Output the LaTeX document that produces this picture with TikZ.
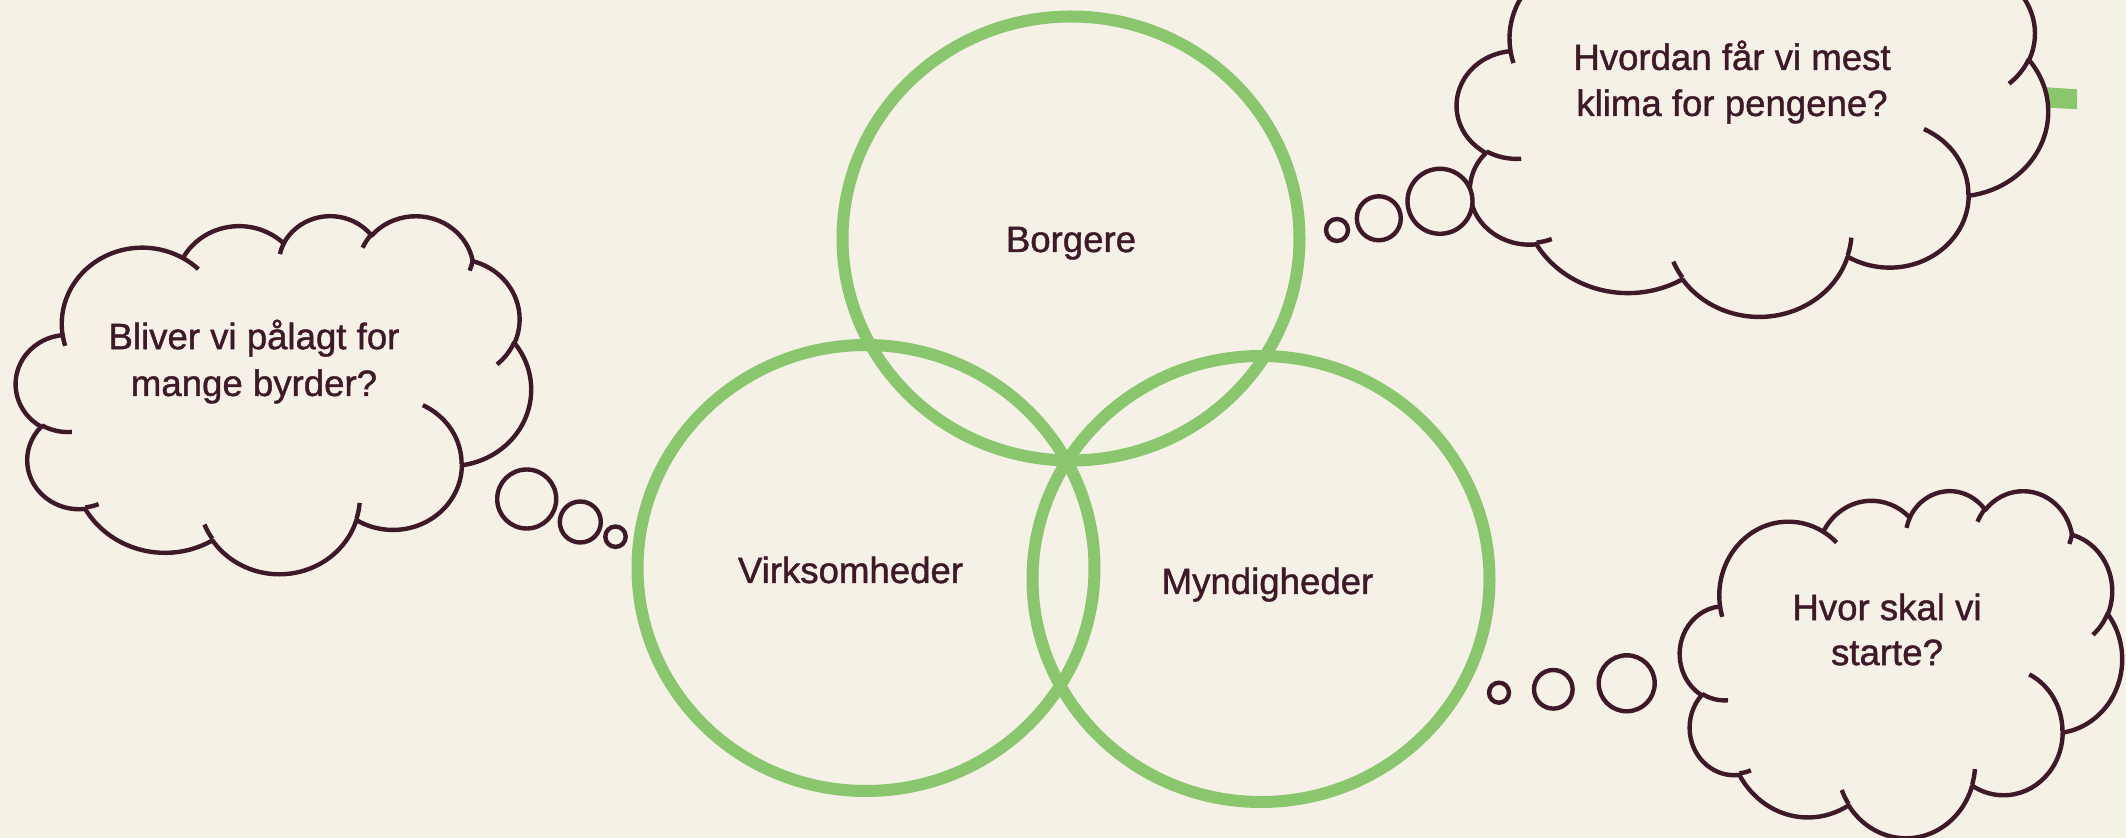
\documentclass[tikz,border=0pt]{standalone}
\usepackage{fontspec}
\setmainfont{Liberation Sans}[FakeBold=1.2]
\usepackage{xcolor}
\definecolor{cRing}{RGB}{137,198,110}
\definecolor{cInk}{RGB}{62,25,42}
\definecolor{cPaper}{RGB}{245,241,231}
% one puff of a cloud: x radius, y radius, start angle, sweep (angles seen on the ellipse)
\newcommand{\puff}[4]{arc[x radius=#1,y radius=#2,start angle={atan2(#1*sin(#3),#2*cos(#3))},delta angle={mod(atan2(#1*sin(#3+#4),#2*cos(#3+#4))-atan2(#1*sin(#3),#2*cos(#3))+720,360)}]}
% thought cloud in a 432 x 432 box: left, top, width, height (px)
\newcommand{\thoughtcloud}[4]{%
  \pgfmathsetmacro\cloudsx{#3/864}%
  \pgfmathsetmacro\cloudsy{-#4/864}%
  \begin{scope}[shift={(#1,#2)},x=\cloudsx pt,y=\cloudsy pt]
    \draw[puffline,fill=cPaper] (39.00,143.70) \puff{67.53}{91.90}{-190.4875}{123.7805}
      \puff{53.33}{72.67}{-144.1024}{89.9452} \puff{43.65}{59.45}{-145.8079}{99.7230}
      \puff{48.57}{65.95}{-130.9861}{117.2417} \puff{53.33}{72.73}{-78.7089}{109.0269}
      \puff{67.75}{92.20}{-46.2673}{130.2690} \puff{57.85}{78.67}{0.6250}{114.0333}
      \puff{67.52}{92.15}{22.4516}{115.1726} \puff{77.20}{105.43}{66.2426}{75.7110}
      \puff{43.60}{59.18}{-274.9421}{146.7356} \puff{43.45}{59.45}{-246.8285}{152.5189} -- cycle;
    % inner hooks
    \draw[puffline] (46.93,261.77) \puff{43.45}{59.45}{86.7420}{26.4295}
      (69.28,348.99) \puff{43.60}{59.18}{73.6105}{11.4475}
      (164.78,390.90) \puff{67.52}{92.15}{137.6242}{14.0811}
      (288.27,347.51) \puff{67.52}{92.15}{6.4533}{15.9984}
      (341.29,229.54) \puff{57.85}{78.67}{-70.2924}{70.9174}
      (417.98,153.54) \puff{53.33}{72.73}{30.3180}{27.7515}
      (383.24,54.26) \puff{48.57}{65.95}{13.7443}{14.8589}
      (290.78,39.52) \puff{48.57}{65.95}{-149.1815}{18.1954}
      (221.41,47.20) \puff{43.65}{59.45}{-163.4943}{17.6864}
      (140.00,51.92) \puff{67.53}{91.90}{-66.7070}{12.3194}
      (41.27,157.89) \puff{67.53}{91.90}{157.6544}{11.8582};
  \end{scope}}

\begin{document}
\begin{tikzpicture}[x=0.5pt,y=-0.5pt,
  ring/.style={draw=cRing,line width=6pt},
  puffline/.style={draw=cInk,line width=2.2pt,line join=round},
  bubble/.style={draw=cInk,fill=cPaper,line width=2.2pt},
  lab/.style={text=cInk,font=\fontsize{18.3}{23}\selectfont,inner sep=0pt},
  thought/.style={lab,align=center}]
  \useasboundingbox (0,0) rectangle (2126,838);
  \clip (0,0) rectangle (2126,838);
  \fill[cPaper] (0,0) rectangle (2126,838);
  % green stub behind the upper cloud
  \fill[cRing] (2035,86.5) -- (2077,89.3) -- (2077,109.3) -- (2035,106.8) -- cycle;
  % the three rings
  \draw[ring] (1071,238.5) ellipse [x radius=228.5,y radius=222];
  \draw[ring] (866,568) ellipse [x radius=228.5,y radius=223];
  \draw[ring] (1261,579) ellipse [x radius=228.5,y radius=223];
  \node[lab,anchor=base] (borgere) at (1071,252) {Borgere};
  \node[lab,anchor=base] (virksomheder) at (850.5,583) {Virksomheder};
  \node[lab,anchor=base] (myndigheder) at (1267.5,594) {Myndigheder};
  % left cloud
  \thoughtcloud{16}{215}{515}{358}
  \draw[bubble] (526.7,499) circle [radius=29.5];
  \draw[bubble] (580.3,522) circle [radius=20.5];
  \draw[bubble] (615.5,536.7) circle [radius=10.2];
  \node[thought,font=\fontsize{18.3}{23.4}\selectfont] (burden) at (254,361.6) {Bliver vi pålagt for\\mange byrder?};
  % upper right cloud
  \thoughtcloud{1457}{-82.3}{591}{397.8}
  \draw[bubble] (1337,230) circle [radius=11];
  \draw[bubble] (1378.8,218.3) circle [radius=22];
  \draw[bubble] (1440,201.3) circle [radius=32.5];
  \node[thought] (climate) at (1732,82) {Hvordan får vi mest\\klima for pengene?};
  % lower right cloud
  \thoughtcloud{1680}{490}{442}{347}
  \draw[bubble] (1499,692.7) circle [radius=10];
  \draw[bubble] (1553.3,689.3) circle [radius=19.3];
  \draw[bubble] (1626.7,683.3) circle [radius=28];
  \node[thought,font=\fontsize{18.3}{22.5}\selectfont] (start) at (1887,629.5) {Hvor skal vi\\starte?};
\end{tikzpicture}
\end{document}
